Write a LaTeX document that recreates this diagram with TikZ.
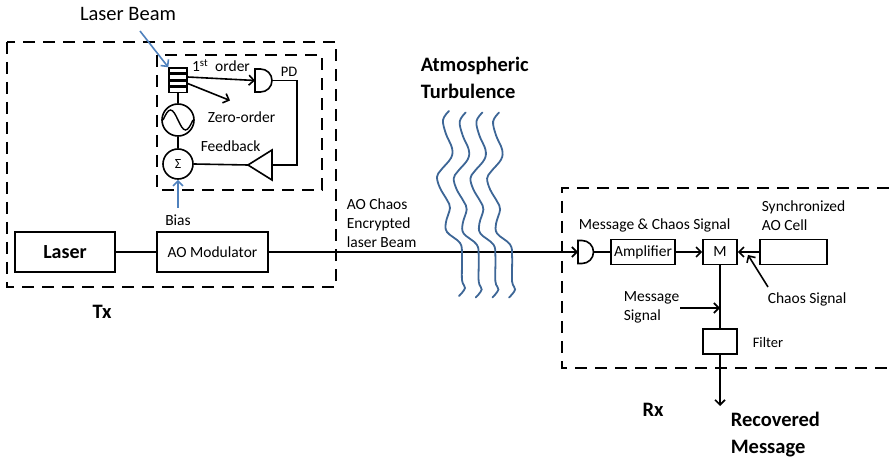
\documentclass[tikz,border=0pt]{standalone}
\usepackage{fontspec}
\setmainfont{Carlito}
\usetikzlibrary{arrows.meta}
\definecolor{beamblue}{HTML}{4F81BD}
\definecolor{waveblue}{HTML}{3D6696}

\begin{document}
\begin{tikzpicture}[x=1pt,y=-1pt,
  line width=1.6pt,
  >={Straight Barb[length=5pt,width=10pt]},
  blk/.style={draw, line width=1.6pt, inner sep=0pt, minimum height=#1},
  blk/.default=25pt,
  lab/.style={font=\fontsize{15.5}{19}\selectfont, inner sep=0pt, align=left},
  smalllab/.style={font=\fontsize{14.5}{18}\selectfont, inner sep=0pt, align=left},
  biglab/.style={font=\fontsize{20.5}{27}\selectfont\bfseries, inner sep=0pt, align=left},
  frame/.style={draw, line width=2pt, dash pattern=on 12pt off 8pt},
  bluearrow/.style={draw=beamblue, line width=1.6pt, ->, >={Straight Barb[length=5pt,width=10pt]}},
  wave/.style={draw=waveblue, line width=1.8pt, line cap=round}
]
\useasboundingbox (0,0) rectangle (889,457);

% ---------------- transmitter ----------------
\draw[frame] (7,42) rectangle (336,287);
\draw[frame] (157,55) rectangle (322,190);

\node[blk=40pt, minimum width=100pt, inner sep=0pt, font=\fontsize{20}{24}\selectfont\bfseries] (laser) at (65,252) {Laser};
\node[blk=40pt, minimum width=111pt, lab] (aomod) at (212.5,252) {AO Modulator};
\draw (laser) -- (aomod);

% acousto-optic cell (stack of plates)
\foreach \i/\yy in {1/70.5, 2/77, 3/83.5, 4/90}
  \node[draw, line width=1.4pt, minimum width=18pt, minimum height=5pt, inner sep=0pt] (c\i) at (178,\yy) {};

% RF source and summing junction
\node[draw, circle, minimum size=32pt, inner sep=0pt] (rf) at (178,120) {};
\node[draw, circle, minimum size=30pt, inner sep=0pt, font=\fontsize{14}{16}\selectfont] (sum) at (178,164) {Σ};
\draw (c4.south) -- (rf.north);
\draw (rf.south) -- (sum.north);
\draw[line width=1.4pt] (163,120) sin (170.5,110) cos (178,120) sin (185.5,130) cos (193,120);

% photodetector
\coordinate (pdW) at (255,80.5);
\coordinate (pdE) at (272,80.5);
\draw (255,69) -- (260.5,69) arc (-90:90:11.5) -- (255,92) -- cycle;

% feedback amplifier
\coordinate (ampIn) at (272,165);
\coordinate (ampOut) at (248,165);
\draw (272,150) -- (272,180) -- (248,165) -- cycle;

\coordinate (zero) at (230,100.5);
\coordinate (fbTop) at (297,80.5);
\coordinate (fbBot) at (297,165);
\draw[->] (c2.east) -- (pdW);
\draw[->] (c3.east) -- (zero);
\draw (pdE) -- (fbTop) -- (fbBot) -- (ampIn);
\draw (ampOut) -- (sum.east);

\node[lab] (first) at (221,66) {1\textsuperscript{st}\ \ order};
\node[smalllab] (pd) at (289,72) {PD};
\node[lab, anchor=west] (zlab) at (207,117) {Zero-order};
\node[lab, anchor=west] (fblab) at (200,146) {Feedback};

\node[font=\fontsize{20.5}{24}\selectfont, inner sep=0pt] (lbeam) at (128,14) {Laser Beam};
\coordinate (lbStart) at (140,31);
\path[bluearrow] (lbStart) -- (c1.north west);

\coordinate (biasStart) at (178,208);
\path[bluearrow] (biasStart) -- (sum.south);
\node[lab] (bias) at (178,220) {Bias};

\node[biglab] (tx) at (102,312) {Tx};

% ---------------- channel ----------------
\node[lab, anchor=west] (chaos) at (346,223) {AO Chaos\\Encrypted\\laser Beam};
\node[biglab, anchor=west] (turb) at (420,78) {Atmospheric\\Turbulence};

% ---------------- receiver ----------------
\draw[frame] (889,188) -- (562,188) -- (562,368) -- (889,368);

\coordinate (rdW) at (578,252);
\coordinate (rdE) at (593.5,252);
\draw (578,240.5) -- (582,240.5) arc (-90:90:11.5) -- (578,263.5) -- cycle;

\draw[->] (aomod.east) -- (rdW);

\node[blk, minimum width=64pt, lab] (amp) at (643,252) {Amplifier};
\node[blk, minimum width=34pt, lab] (mix) at (720,252) {M};
\node[blk, minimum width=67pt] (cell) at (793.5,252) {};
\node[blk, minimum width=34pt] (filter) at (720,341.5) {};

\draw (rdE) -- (amp.west);
\draw[->] (amp.east) -- (mix.west);
\draw[->] (cell.west) -- (mix.east);
\coordinate (csStart) at (768,287);
\coordinate (csEnd) at (748,255);
\draw[->] (csStart) -- (csEnd);
\draw (mix.south) -- (filter.north);
\coordinate (msStart) at (680,308);
\coordinate (msEnd) at (720,308);
\draw[->] (msStart) -- (msEnd);
\coordinate (out) at (720,406);
\draw[->] (filter.south) -- (out);

\node[lab, anchor=west] (mcs) at (578,225) {Message \& Chaos Signal};
\node[lab, anchor=west] (sync) at (761,216) {Synchronized\\AO Cell};
\node[lab, anchor=west] (cslab) at (767,299) {Chaos Signal};
\node[lab, anchor=west] (mslab) at (623,307.5) {Message\\Signal};
\node[smalllab, anchor=west] (flab) at (752,343) {Filter};
\node[biglab] (rx) at (653,410) {Rx};
\node[biglab, anchor=west] (rec) at (730,434.5) {Recovered\\Message};

% ---------------- turbulence ----------------
\foreach \s/\t in {0/0, 16.7/1.5, 33.4/1.5, 50.1/1.5}
  \draw[wave, shift={(\s,\t)}] plot[smooth, tension=0.6] coordinates {
    (449,111) (443,120) (446,134) (452,148) (451,158) (441,170) (437,177)
    (440,188) (447,200) (450,208) (446,222) (447,232) (460,243) (462,255)
    (462,280) (465,288) (459,296)};
\end{tikzpicture}
\end{document}
